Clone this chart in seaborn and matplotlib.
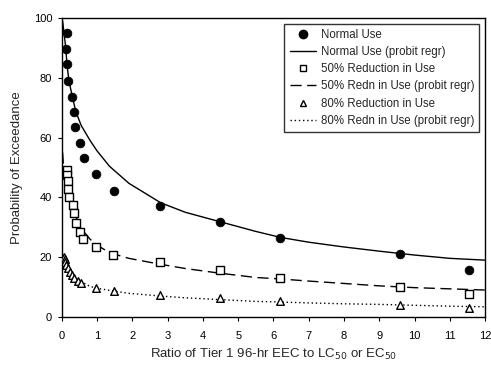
import numpy as np
import pandas as pd
import matplotlib
matplotlib.use("Agg")
import matplotlib.pyplot as plt
from matplotlib.lines import Line2D
import seaborn as sns

sns.set_style("ticks")
plt.rcParams['font.family'] = ['Liberation Sans', 'DejaVu Sans']

normal_x = [0.14, 0.13, 0.14, 0.17, 0.30, 0.33, 0.38, 0.51, 0.62, 0.97, 1.48, 2.78, 4.49, 6.19, 9.59, 11.55]
normal_y = [95.0, 89.6, 84.6, 79.0, 73.7, 68.7, 63.5, 58.2, 53.0, 47.8, 42.1, 37.0, 31.8, 26.3, 21.2, 15.6]

half_x = [0.14, 0.14, 0.17, 0.17, 0.20, 0.31, 0.34, 0.41, 0.51, 0.60, 0.97, 1.45, 2.78, 4.48, 6.18, 9.59, 11.55]
half_y = [49.2, 47.5, 45.3, 42.7, 40.2, 37.5, 34.7, 31.3, 28.5, 26.1, 23.5, 20.7, 18.5, 15.7, 12.9, 10.1, 7.6]

tenth_x = [0.06, 0.08, 0.10, 0.13, 0.17, 0.22, 0.28, 0.35, 0.45, 0.55, 0.98, 1.48, 2.78, 4.49, 6.18, 9.59, 11.55]
tenth_y = [20.2, 19.5, 18.5, 17.4, 16.3, 15.2, 14.0, 13.0, 12.0, 11.2, 9.6, 8.7, 7.4, 6.5, 5.5, 4.0, 3.1]

# probit regression curves
curve_x = [0.02, 0.05, 0.1, 0.15, 0.2, 0.3, 0.4, 0.55, 0.8, 1.0, 1.35, 1.9, 2.8, 3.5, 4.5,
           5.5, 6.2, 7, 8, 9, 10, 11, 12]
normal_fit = [99, 96, 91, 84, 79, 73.5, 68.5, 64, 59, 55.5, 50.4, 44.7, 38.2, 35, 31.8,
              28.6, 26.6, 25, 23.4, 22, 20.7, 19.6, 19.0]
half_fit = [55, 50, 46, 43, 40.5, 37, 33.5, 29.5, 26, 24, 21.5, 19.6, 17.6, 16.2, 14.6,
            13.2, 12.7, 12, 11.2, 10.4, 9.8, 9.4, 9.0]
tenth_fit = [21, 19.8, 18.3, 17, 15.8, 14.2, 13.0, 11.8, 10.2, 9.6, 8.9, 7.9, 7.0, 6.4, 5.8,
             5.2, 5.0, 4.7, 4.4, 4.2, 3.9, 3.6, 3.4]

fig = plt.figure(figsize=(4.91, 3.66), dpi=100)
ax = fig.add_axes([0.126, 0.134, 0.862, 0.817])

# regression lines
sns.lineplot(x=curve_x, y=normal_fit, ax=ax, color='black', lw=1.0, sort=False)
sns.lineplot(x=curve_x, y=half_fit, ax=ax, color='black', lw=1.0, sort=False,
             linestyle=(0, (8, 4)))
sns.lineplot(x=curve_x, y=tenth_fit, ax=ax, color='black', lw=1.0, sort=False,
             linestyle=(0, (1, 2)))

# data points
sns.scatterplot(x=normal_x, y=normal_y, ax=ax, marker='o', s=40, color='black',
                edgecolor='black', zorder=3)
sns.scatterplot(x=half_x, y=half_y, ax=ax, marker='s', s=28, facecolor='white',
                edgecolor='black', linewidth=1.0, zorder=3)
sns.scatterplot(x=tenth_x, y=tenth_y, ax=ax, marker='^', s=30, facecolor='white',
                edgecolor='black', linewidth=1.0, zorder=3)

ax.set_xlim(0, 12)
ax.set_ylim(0, 100)
ax.set_xticks(range(0, 13))
ax.set_yticks(range(0, 101, 20))
ax.tick_params(labelsize=8, length=3, width=0.8, colors='black')
ax.tick_params(axis='x', pad=7)
ax.tick_params(axis='y', pad=4)
for sp in ax.spines.values():
    sp.set_linewidth(1.0)
    sp.set_color('black')

ax.set_xlabel('Ratio of Tier 1 96-hr EEC to LC$_{50}$ or EC$_{50}$', fontsize=9.5, labelpad=4)
ax.set_ylabel('Probability of Exceedance', fontsize=9.5, labelpad=8)

handles = [
    Line2D([], [], marker='o', color='black', ls='none', markersize=6),
    Line2D([], [], color='black', lw=1.0),
    Line2D([], [], marker='s', color='black', mfc='white', ls='none', markersize=5),
    Line2D([], [], color='black', lw=1.0, ls=(0, (8, 4))),
    Line2D([], [], marker='^', color='black', mfc='white', ls='none', markersize=5),
    Line2D([], [], color='black', lw=1.0, ls=(0, (1, 2))),
]
labels = ['Normal Use', 'Normal Use (probit regr)', '50% Reduction in Use',
          '50% Redn in Use (probit regr)', '80% Reduction in Use',
          '80% Redn in Use (probit regr)']
leg = ax.legend(handles, labels, loc='upper right', fontsize=8.3, frameon=True,
                fancybox=False, edgecolor='black', handlelength=2.3, handletextpad=0.4,
                borderaxespad=0.5, labelspacing=0.45, borderpad=0.45)
leg.get_frame().set_linewidth(1.0)

fig.savefig('out.png', dpi=100)
